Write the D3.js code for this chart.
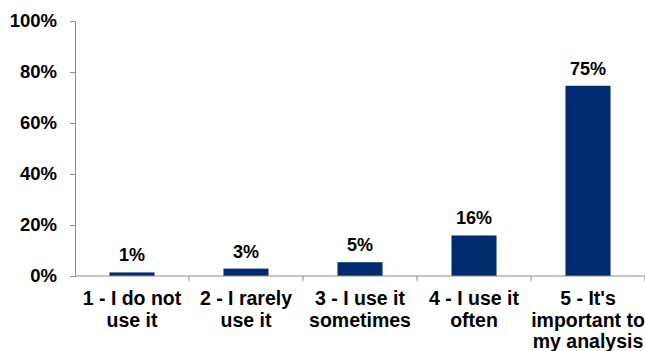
<!DOCTYPE html>
<html>
<head>
<meta charset="utf-8">
<script src="https://cdn.jsdelivr.net/npm/d3@7"></script>
<style>
  body { margin: 0; background: #fff; }
  svg { display: block; font-family: "Liberation Sans", Arial, sans-serif; font-weight: bold; }
</style>
</head>
<body>
<script>
// survey answers
var categories = [
  ["1 - I do not", "use it"],
  ["2 - I rarely", "use it"],
  ["3 - I use it", "sometimes"],
  ["4 - I use it", "often"],
  ["5 - It's", "important to", "my analysis"]
];
var values = [1.4, 2.9, 5.4, 15.9, 74.6];
var yTicks = [0, 20, 40, 60, 80, 100];

var width = 645, height = 351;
var margin = {top: 21, right: 0, bottom: 75, left: 75};

var svg = d3.select("body").append("svg")
  .attr("width", width)
  .attr("height", height);

var x = d3.scaleBand()
  .domain(d3.range(categories.length))
  .range([margin.left, width - margin.right]);

var y = d3.scaleLinear()
  .domain([0, 100])
  .range([height - margin.bottom, margin.top]);

var barW = x.bandwidth() * 0.395;

// y axis
var yAxis = svg.append("g")
  .attr("transform", "translate(" + margin.left + ",0)")
  .call(d3.axisLeft(y).tickValues(yTicks).tickFormat(d => d + "%").tickSize(5).tickPadding(13));
yAxis.select(".domain").attr("stroke", "#8c8c8c");
yAxis.selectAll(".tick line").attr("stroke", "#8c8c8c");
yAxis.selectAll(".tick text")
  .attr("fill", "#000")
  .style("font-size", "18.5px")
  .style("font-weight", "bold")
  .style("font-family", "'Liberation Sans', Arial, sans-serif");

// bars
svg.selectAll("rect.bar")
  .data(values)
  .join("rect")
  .attr("class", "bar")
  .attr("x", (d, i) => x(i) + (x.bandwidth() - barW) / 2)
  .attr("y", d => y(d))
  .attr("width", barW)
  .attr("height", d => y(0) - y(d))
  .attr("fill", "#002b6e");

// value labels
svg.selectAll("text.val")
  .data(values)
  .join("text")
  .attr("class", "val")
  .attr("x", (d, i) => x(i) + x.bandwidth() / 2)
  .attr("y", d => y(d) - 11)
  .attr("text-anchor", "middle")
  .style("font-size", "18px")
  .text(d => Math.round(d) + "%");

// x axis
var xAxis = svg.append("g")
  .attr("transform", "translate(0," + y(0) + ")");
xAxis.append("line")
  .attr("x1", margin.left).attr("x2", width)
  .attr("stroke", "#8c8c8c");
xAxis.selectAll("line.tk")
  .data(d3.range(categories.length))
  .join("line")
  .attr("class", "tk")
  .attr("x1", d => x(d) + x.bandwidth())
  .attr("x2", d => x(d) + x.bandwidth())
  .attr("y1", 0).attr("y2", 5)
  .attr("stroke", "#8c8c8c");

var cat = xAxis.selectAll("text.cat")
  .data(categories)
  .join("text")
  .attr("class", "cat")
  .attr("text-anchor", "middle")
  .style("font-size", "19.5px");
cat.selectAll("tspan")
  .data((d, i) => d.map(s => ({s: s, i: i})))
  .join("tspan")
  .attr("x", d => x(d.i) + x.bandwidth() / 2)
  .attr("y", (d, j) => 29 + j * 21.7)
  .text(d => d.s);
</script>
</body>
</html>
